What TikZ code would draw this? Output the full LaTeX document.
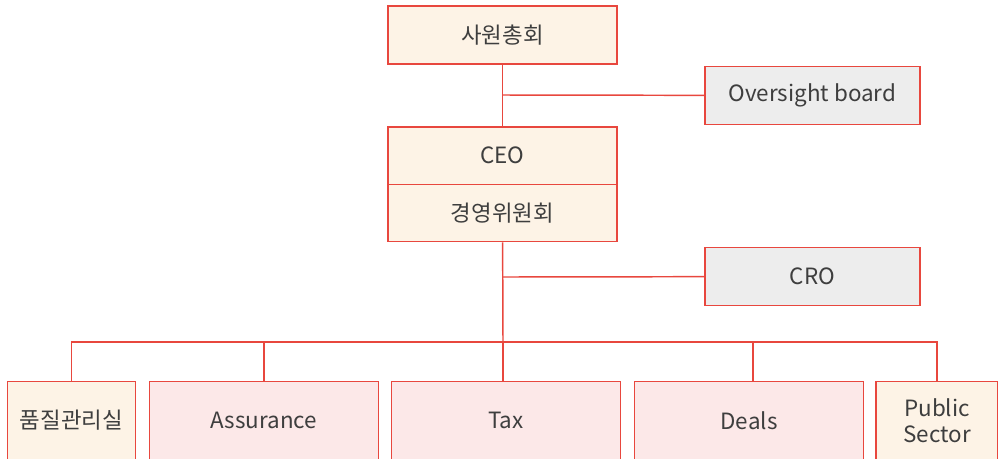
\documentclass[tikz,border=0pt]{standalone}
\usepackage{fontspec}
\setmainfont{Noto Sans CJK KR}
\usetikzlibrary{shapes,arrows}

\definecolor{boxred}{HTML}{E8473E}
\definecolor{cream}{HTML}{FDF3E6}
\definecolor{pinkish}{HTML}{FCE8E8}
\definecolor{greyish}{HTML}{EDEDED}
\definecolor{inktext}{HTML}{3E3E3E}

\begin{document}
\begin{tikzpicture}[x=0.75pt, y=-0.75pt, font=\fontsize{16.8}{19.5}\selectfont, text=inktext]
        % Define block styles
        \tikzstyle{base} = [rectangle, draw=boxred, line width=1.1pt, inner sep=0pt,
            align=center]
        \tikzstyle{top} = [base, fill=cream, minimum width=171.75pt, minimum height=43.5pt]
        \tikzstyle{half} = [base, fill=cream, minimum width=171.75pt, minimum height=43.1pt]
        \tikzstyle{side} = [base, fill=greyish, minimum width=161.25pt, minimum height=43.5pt]
        \tikzstyle{unit} = [base, fill=pinkish, minimum width=171.75pt, minimum height=58.5pt]
        \tikzstyle{office} = [base, fill=cream, minimum height=58.5pt]
        \tikzstyle{line} = [draw=boxred, line width=1.1pt]

        \useasboundingbox (0,0) rectangle (998,458);
        \clip (0,0) rectangle (998,458);

        % Nodes
        \node [top] (assembly) at (502.5,35) {사원총회};
        \node [side] (oversight) at (812.5,95.5) {Oversight board};
        \node [half] (ceo) at (502.5,155.5) {CEO};
        \node [half] (committee) at (502.5,213) {경영위원회};
        \node [side] (cro) at (812.5,276.5) {CRO};

        \node [office, minimum width=96pt] (quality) at (71.5,420.5) {품질관리실};
        \node [unit] (assurance) at (264,420.5) {Assurance};
        \node [unit] (tax) at (506,420.5) {Tax};
        \node [unit] (deals) at (749,420.5) {Deals};
        \node [office, minimum width=91.5pt] (public) at (937,420.5) {Public\\Sector};

        % Lines
        \coordinate (bus) at (503,342);
        \path [line] (assembly) -- (ceo);
        \path [line] (503,95) -- (oversight);
        \path [line] (committee) -- (bus);
        \path [line] (503,277) -- (cro);
        \path [line] (quality.north) |- (bus) -| (public.north);
        \path [line] (assurance.north) -- ++(0,-39.5);
        \path [line] (tax.north) ++(-3,0) -- (bus);
        \path [line] (deals.north) ++(4,0) -- ++(0,-39.5);
    \end{tikzpicture}
\end{document}
